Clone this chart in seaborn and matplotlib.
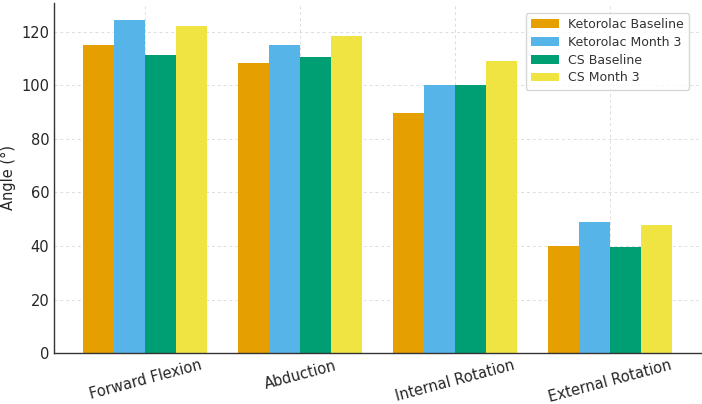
import matplotlib
matplotlib.use("Agg")
import matplotlib.pyplot as plt
import seaborn as sns
import pandas as pd

# values
movements = ["Forward Flexion", "Abduction", "Internal Rotation", "External Rotation"]
groups = ["Ketorolac Baseline", "Ketorolac Month 3", "CS Baseline", "CS Month 3"]
ketorolac_baseline = [115, 108.5, 89.5, 40]
ketorolac_month3 = [124.5, 115, 100, 49]
cs_baseline = [111.5, 110.5, 100, 39.5]
cs_month3 = [122, 118.5, 109, 48]
colors = ["#E69F00", "#56B4E9", "#009E73", "#F0E442"]

rows = []
for g, vals in zip(groups, [ketorolac_baseline, ketorolac_month3, cs_baseline, cs_month3]):
    for m, v in zip(movements, vals):
        rows.append({"Movement": m, "Group": g, "Angle": v})
df = pd.DataFrame(rows)

sns.set_style("white")
plt.rcParams["font.family"] = ["DejaVu Sans"]

fig = plt.figure(figsize=(7.02, 4.04), dpi=100)
ax = fig.add_axes([0.077, 0.126, 0.922, 0.867])

sns.barplot(data=df, x="Movement", y="Angle", hue="Group", hue_order=groups,
            palette=colors, width=0.8, saturation=1, errorbar=None,
            linewidth=0, edgecolor="none", ax=ax)

ax.set_xlim(-0.59, 3.59)
ax.set_ylim(0, 130.8)
ax.set_xlabel("")
ax.set_ylabel("Angle (°)", fontsize=10.5, color="#262626")
ax.grid(True, linestyle=(0, (3, 3)), color="#dddddd", linewidth=0.7)
ax.set_axisbelow(True)
for s in ["top", "right"]:
    ax.spines[s].set_visible(False)
for s in ["left", "bottom"]:
    ax.spines[s].set_color("#333333")
    ax.spines[s].set_linewidth(1.0)
ax.tick_params(direction="in", length=4, color="#333333", labelsize=10.5, labelcolor="#262626")
plt.setp(ax.get_xticklabels(), rotation=15)

leg = ax.legend(loc="upper right", fontsize=9, frameon=True, fancybox=True,
                borderpad=0.45, handlelength=2.2, labelspacing=0.38, handletextpad=0.7,
                bbox_to_anchor=(0.9905, 0.99))
leg.get_frame().set_edgecolor("#cccccc")
for t in leg.get_texts():
    t.set_color("#333333")

fig.savefig("out.png", dpi=100)
